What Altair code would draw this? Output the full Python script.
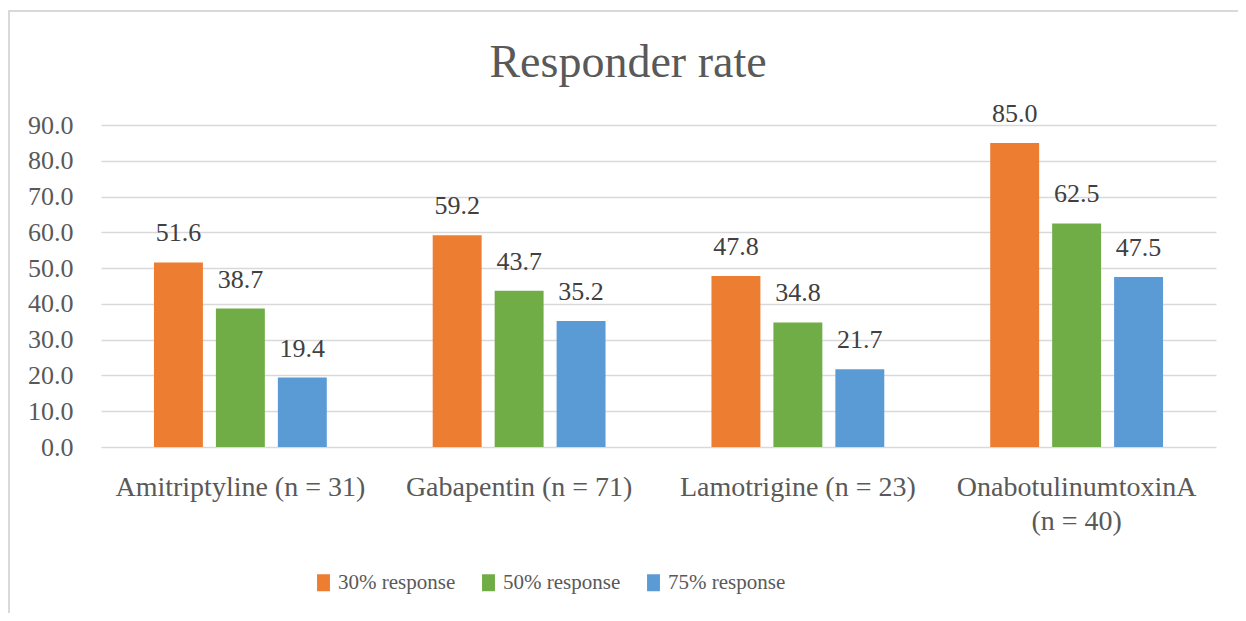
import altair as alt
import pandas as pd

categories = ["Amitriptyline (n = 31)", "Gabapentin (n = 71)", "Lamotrigine (n = 23)", "OnabotulinumtoxinA (n = 40)"]
series = ["30% response", "50% response", "75% response"]
r30 = [51.6, 59.2, 47.8, 85.0]
r50 = [38.7, 43.7, 34.8, 62.5]
r75 = [19.4, 35.2, 21.7, 47.5]
colors = ["#ED7D31", "#70AD47", "#5B9BD5"]
y_ticks = [0, 10, 20, 30, 40, 50, 60, 70, 80, 90]
title_text = "Responder rate"

rows = []
for s, vals in zip(series, [r30, r50, r75]):
    for c, v in zip(categories, vals):
        rows.append({"drug": c, "series": s, "value": v})
df = pd.DataFrame(rows)

FONT = "Liberation Serif"
W, H = 1115, 322

x_enc = alt.X("drug:N", sort=categories, title=None,
              scale=alt.Scale(paddingInner=0.38, paddingOuter=0.19),
              axis=alt.Axis(labelAngle=0, labelFontSize=28, labelFont=FONT, labelColor="#595959",
                            labelPadding=26, ticks=False, domain=False, labelLineHeight=34,
                            labelLimit=600, labelOverlap=False,
                            labelExpr="length(datum.label) > 24 ? [substring(datum.label, 0, indexof(datum.label, ' (')), substring(datum.label, indexof(datum.label, ' (') + 1)] : datum.label"))
xo_enc = alt.XOffset("series:N", sort=series, scale=alt.Scale(paddingInner=0.21, paddingOuter=0))
y_enc = alt.Y("value:Q", title=None,
              scale=alt.Scale(domain=[0, 90], nice=False, zero=True),
              axis=alt.Axis(values=y_ticks, format=".1f", labelFontSize=26, labelFont=FONT,
                            labelColor="#595959", labelPadding=28, ticks=False, domain=False,
                            labelOverlap=False,
                            grid=True, gridColor="#D9D9D9", gridWidth=1.3))
color_enc = alt.Color("series:N", sort=series, title=None,
                      scale=alt.Scale(domain=series, range=colors),
                      legend=alt.Legend(orient="none", legendX=212, legendY=447, direction="horizontal",
                                        columns=3, symbolType="M-0.76,-1H0.76V1H-0.76Z",
                                        symbolSize=289, symbolStrokeWidth=0, labelFontSize=21,
                                        labelFont=FONT, labelColor="#595959", labelOffset=4,
                                        columnPadding=22, padding=0, labelLimit=400))

bars = alt.Chart(df).mark_bar().encode(x=x_enc, xOffset=xo_enc, y=y_enc, color=color_enc)

labels = alt.Chart(df).mark_text(font=FONT, fontSize=26, color="#404040", baseline="alphabetic", dy=-21).encode(
    x=x_enc, xOffset=xo_enc, y=y_enc, text=alt.Text("value:Q", format=".1f"))

title = alt.Chart(pd.DataFrame({"t": [title_text]})).mark_text(
    font=FONT, fontSize=46, color="#595959", baseline="middle", align="center").encode(
    text="t:N", x=alt.value(527), y=alt.value(-62))

border = alt.Chart(pd.DataFrame({"a": [0]})).mark_rect(fill=None, stroke="#D9D9D9", strokeWidth=2).encode(
    x=alt.value(-92), x2=alt.value(1400), y=alt.value(-114), y2=alt.value(800))

chart = alt.layer(bars, labels, title, border).properties(
    width=W, height=H,
    autosize=alt.AutoSizeParams(type="none"),
    padding={"left": 93, "top": 117, "right": 22, "bottom": 166},
).configure(
    background="white",
    view=alt.ViewConfig(stroke=None),
    legend=alt.LegendConfig(labelFont=FONT),
    text=alt.MarkConfig(font=FONT),
)

chart.save("out.html", embed_options={"renderer": "svg", "actions": False})
